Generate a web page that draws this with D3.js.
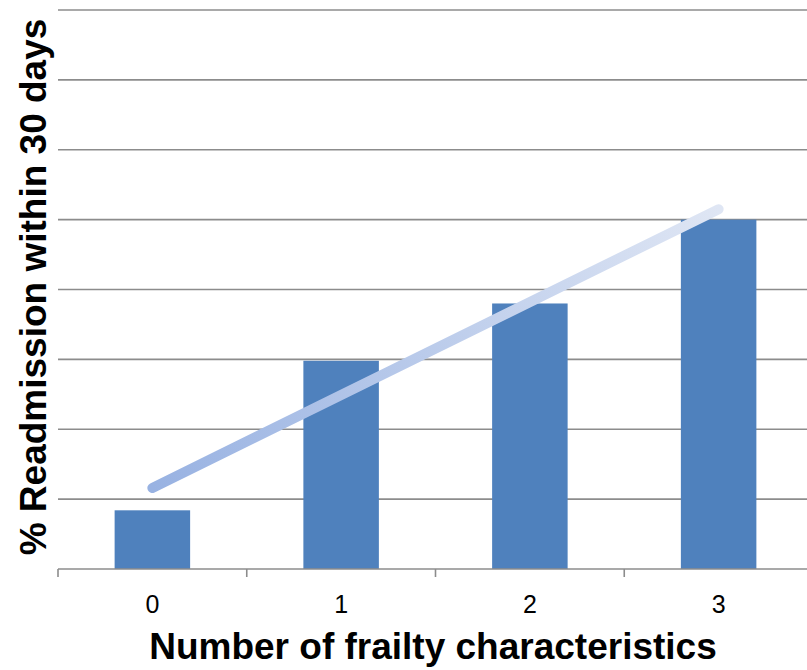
<!DOCTYPE html>
<html>
<head>
<meta charset="utf-8">
<script src="https://cdn.jsdelivr.net/npm/d3@7"></script>
<style>
  html, body { margin: 0; padding: 0; background: #fff; }
  svg { display: block; font-family: "Liberation Sans", Arial, sans-serif; }
</style>
</head>
<body>
<svg id="chart" width="807" height="670"></svg>
<script>
// Readmission rate by count of frailty characteristics
const categories = ["0", "1", "2", "3"];
const readmissionPct = [4.2, 14.9, 19.0, 25.0];
const yTicks = [0, 5, 10, 15, 20, 25, 30, 35, 40];

const svg = d3.select("#chart");
const plot = { left: 58, right: 813, top: 10, bottom: 569 };

const x = d3.scaleBand()
  .domain(categories)
  .range([plot.left, plot.right])
  .paddingInner(0.6)
  .paddingOuter(0.3);

const y = d3.scaleLinear()
  .domain([0, 40])
  .range([plot.bottom, plot.top]);

// horizontal gridlines
svg.append("g")
  .selectAll("line")
  .data(yTicks.slice(1))
  .join("line")
  .attr("x1", plot.left)
  .attr("x2", 807)
  .attr("y1", d => y(d))
  .attr("y2", d => y(d))
  .attr("stroke", "#8c8c8c")
  .attr("stroke-width", 1.6);

// bars
svg.append("g")
  .selectAll("rect")
  .data(categories)
  .join("rect")
  .attr("x", d => x(d))
  .attr("width", x.bandwidth())
  .attr("y", (d, i) => y(readmissionPct[i]))
  .attr("height", (d, i) => y(0) - y(readmissionPct[i]))
  .attr("fill", "#4f81bd");

// x axis: baseline with ticks between categories
const xAxis = svg.append("g");
xAxis.append("line")
  .attr("x1", plot.left).attr("x2", 807)
  .attr("y1", y(0)).attr("y2", y(0))
  .attr("stroke", "#8c8c8c").attr("stroke-width", 1.6);

const boundaries = categories.map(c => x(c) - x.step() * x.paddingInner() / 2);
boundaries[0] = plot.left;
boundaries.push(x(categories[3]) + x.bandwidth() + x.step() * x.paddingInner() / 2);
xAxis.selectAll("line.tick")
  .data(boundaries)
  .join("line")
  .attr("class", "tick")
  .attr("x1", d => d).attr("x2", d => d)
  .attr("y1", y(0)).attr("y2", y(0) + 8)
  .attr("stroke", "#8c8c8c").attr("stroke-width", 1.6);

xAxis.selectAll("text")
  .data(categories)
  .join("text")
  .attr("x", d => x(d) + x.bandwidth() / 2)
  .attr("y", 613)
  .attr("text-anchor", "middle")
  .attr("font-size", 25)
  .attr("fill", "#000")
  .text(d => d);

// linear trendline fitted to the bar values
const xs = categories.map((c, i) => i);
const mx = d3.mean(xs), my = d3.mean(readmissionPct);
const slope = d3.sum(xs, (v, i) => (v - mx) * (readmissionPct[i] - my)) /
              d3.sum(xs, v => (v - mx) * (v - mx));
const intercept = my - slope * mx;
const cx = i => x(categories[i]) + x.bandwidth() / 2;

const defs = svg.append("defs");
const grad = defs.append("linearGradient")
  .attr("id", "trendGrad")
  .attr("gradientUnits", "userSpaceOnUse")
  .attr("x1", cx(0)).attr("y1", y(intercept))
  .attr("x2", cx(3)).attr("y2", y(intercept + slope * 3));
grad.append("stop").attr("offset", "0%").attr("stop-color", "#98b2e2");
grad.append("stop").attr("offset", "100%").attr("stop-color", "#dfe6f4");

svg.append("line")
  .attr("x1", cx(0)).attr("y1", y(intercept))
  .attr("x2", cx(3)).attr("y2", y(intercept + slope * 3))
  .attr("stroke", "url(#trendGrad)")
  .attr("stroke-width", 10)
  .attr("stroke-linecap", "round");

// axis titles
svg.append("text")
  .attr("x", 433)
  .attr("y", 659)
  .attr("text-anchor", "middle")
  .attr("font-size", 37)
  .attr("font-weight", "bold")
  .attr("fill", "#000")
  .text("Number of frailty characteristics");

svg.append("text")
  .attr("transform", "translate(46,287) rotate(-90)")
  .attr("text-anchor", "middle")
  .attr("font-size", 37)
  .attr("font-weight", "bold")
  .attr("fill", "#000")
  .text("% Readmission within 30 days");
</script>
</body>
</html>
